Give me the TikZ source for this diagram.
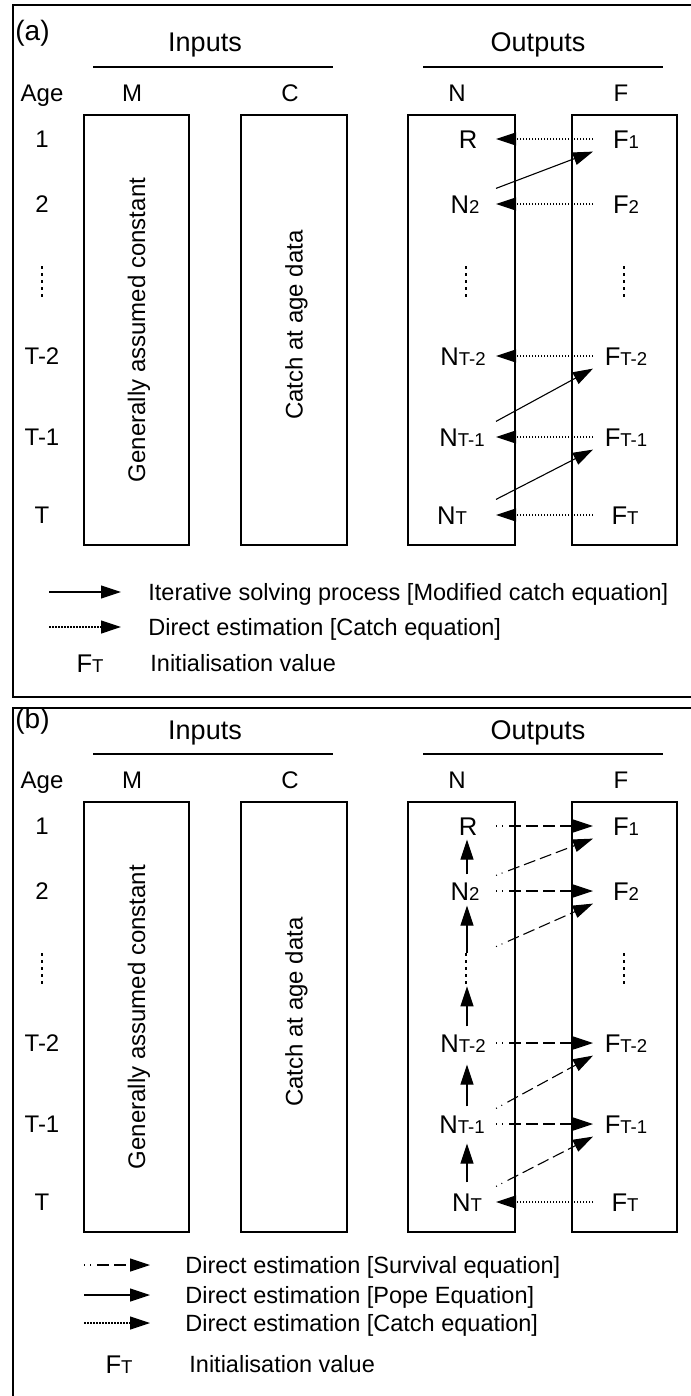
\documentclass[tikz,border=0pt]{standalone}
\usepackage{fontspec}
\setmainfont{Liberation Sans}
\usetikzlibrary{arrows.meta,calc}
\newcommand\mysub[1]{{\fontsize{9.3}{11}\selectfont #1}}
\tikzset{
  lab/.style={font=\fontsize{12}{14}\selectfont, inner sep=0pt, text height=8.6pt, text depth=0pt},
  nf/.style={font=\fontsize{12.8}{15}\selectfont, inner sep=0pt, text height=9.2pt, text depth=0pt},
  leg/.style={font=\fontsize{11.75}{14}\selectfont, inner sep=0pt, text height=8.4pt, text depth=0pt},
  hdr/.style={font=\fontsize{13.5}{16}\selectfont, inner sep=0pt, anchor=base},
  colbox/.style={draw, line width=0.65pt},
  frameline/.style={draw, line width=1pt},
  hrule/.style={line width=0.65pt},
  head/.style={-{Triangle[length=10pt,width=6.5pt]}},
  iter/.style={head, line width=0.55pt},
  catch/.style={head, line width=0.6pt, dash pattern=on 0.75pt off 0.75pt},
  surv/.style={head, line width=0.55pt, dash pattern=on 0.5pt off 2.5pt on 0.5pt off 3pt on 6pt off 2.5pt on 6pt off 2.5pt on 6pt off 2.5pt on 6pt off 2.5pt on 6pt off 2.5pt},
  pope/.style={head, line width=0.6pt},
  dotcol/.style={inner sep=0pt, minimum width=2pt, minimum height=15.5pt,
    path picture={\draw[line width=1.3pt, dash pattern=on 1.3pt off 2.2pt]
      (path picture bounding box.north) -- (path picture bounding box.south);}},
}
\newcommand\mypanel[3]{%
  \node[hdr, anchor=base west, font=\fontsize{14}{16}\selectfont] (#1lab) at (15,41) {#2};
  \node[hdr] (#1in) at (205,52) {Inputs};
  \node[hdr] (#1out) at (538,52) {Outputs};
  \draw[hrule] (93,67) -- (333,67);
  \draw[hrule] (423,67) -- (663,67);
  \node[lab] (#1age) at (42,93) {Age};
  \node[lab] (#1hM) at (132,93) {M};
  \node[lab] (#1hC) at (290,93) {C};
  \node[lab] (#1hN) at (457,93) {N};
  \node[lab] (#1hF) at (621,93) {F};
  \draw[colbox] (84,115) rectangle (189,545);
  \draw[colbox] (241,115) rectangle (347,545);
  \draw[colbox] (408,115) rectangle (515,545);
  \draw[colbox] (572,115) rectangle (677,545);
  \node[lab, rotate=90] (#1gen) at (136.5,330) {Generally assumed constant};
  \node[lab, rotate=90] (#1cat) at (294,325) {Catch at age data};
  \node[lab] (#1A1) at (42,139) {1};
  \node[lab] (#1A2) at (42,204) {2};
  \node[dotcol] (#1Ad) at (42,281.5) {};
  \node[lab] (#1Am2) at (42,356) {T-2};
  \node[lab] (#1Am1) at (42,437) {T-1};
  \node[lab] (#1AT) at (42,515) {T};
  \node[nf] (#1R) at (468,139) {R};
  \node[nf] (#1N2) at (465,204) {N\mysub{2}};
  \node[dotcol] (#1Nd) at (466,281.5) {};
  \node[nf] (#1Nm2) at (463,356) {N\mysub{T-2}};
  \node[nf] (#1Nm1) at (462,437) {N\mysub{T-1}};
  \node[nf] (#1NT) at (#3,515) {N\mysub{T}};
  \node[nf] (#1F1) at (626,139) {F\mysub{1}};
  \node[nf] (#1F2) at (626,204) {F\mysub{2}};
  \node[dotcol] (#1Fd) at (624,281.5) {};
  \node[nf] (#1Fm2) at (626,356) {F\mysub{T-2}};
  \node[nf] (#1Fm1) at (626,437) {F\mysub{T-1}};
  \node[nf] (#1FT) at (625,515) {F\mysub{T}};
  \coordinate (#1xN) at (496,0);
  \coordinate (#1xF) at (593,0);
  \coordinate (#1xV) at (467,0);
}
\begin{document}
\begin{tikzpicture}[x=0.5pt,y=-0.5pt]
\useasboundingbox (0,0) rectangle (690,1396);
\draw[frameline] (700,5) -- (12.5,5) -- (12.5,697) -- (700,697);
\draw[frameline] (700,708) -- (12.5,708) -- (12.5,1400);
% ---------------- panel (a)
\mypanel{a}{(a)}{452}
\draw[catch] (axF |- aF1) -- (axN |- aR);
\draw[catch] (axF |- aF2) -- (axN |- aN2);
\draw[catch] (axF |- aFm2) -- (axN |- aNm2);
\draw[catch] (axF |- aFm1) -- (axN |- aNm1);
\draw[catch] (axF |- aFT) -- (axN |- aNT);
\draw[iter] ($(axN |- aN2.north)+(0,-6)$) -- ($(axF |- aF1.south)+(0,3)$);
\draw[iter] ($(axN |- aNm1.north)+(0,-6)$) -- ($(axF |- aFm2.south)+(0,3)$);
\draw[iter] ($(axN |- aNT.north)+(0,-6)$) -- ($(axF |- aFm1.south)+(0,3)$);
\coordinate (aL1s) at (49,592);
\node[leg, anchor=west] (aL1) at (148,592) {Iterative solving process [Modified catch equation]};
\draw[iter] (aL1s) -- ($(aL1.west)+(-27,0)$);
\coordinate (aL2s) at (49,627);
\node[leg, anchor=west] (aL2) at (148,627) {Direct estimation [Catch equation]};
\draw[catch] (aL2s) -- ($(aL2.west)+(-27,0)$);
\node[nf] (aL3f) at (90,663) {F\mysub{T}};
\node[leg, anchor=west] (aL3) at (150,663) {Initialisation value};
% ---------------- panel (b)
\begin{scope}[shift={(0,687)}]
\mypanel{b}{(b)}{467}
\draw[surv] (bxN |- bR) -- (bxF |- bF1);
\draw[surv] (bxN |- bN2) -- (bxF |- bF2);
\draw[surv] (bxN |- bNm2) -- (bxF |- bFm2);
\draw[surv] (bxN |- bNm1) -- (bxF |- bFm1);
\draw[surv] ($(bxN |- bN2.north)+(0,-6)$) -- ($(bxF |- bF1.south)+(0,3)$);
\draw[surv] ($(bxN |- bNd.north)+(0,-6)$) -- ($(bxF |- bF2.south)+(0,3)$);
\draw[surv] ($(bxN |- bNm1.north)+(0,-6)$) -- ($(bxF |- bFm2.south)+(0,3)$);
\draw[surv] ($(bxN |- bNT.north)+(0,-6)$) -- ($(bxF |- bFm1.south)+(0,3)$);
\draw[pope] ($(bxV |- bN2.north)+(0,-7)$) -- ($(bxV |- bR.south)+(0,4)$);
\draw[pope] (bxV |- bNd.north) -- ($(bxV |- bN2.south)+(0,5)$);
\draw[pope] ($(bxV |- bNm2.north)+(0,-7)$) -- ($(bxV |- bNd.south)+(0,2)$);
\draw[pope] ($(bxV |- bNm1.north)+(0,-8)$) -- ($(bxV |- bNm2.south)+(0,12)$);
\draw[pope] ($(bxV |- bNT.north)+(0,-10)$) -- ($(bxV |- bNm1.south)+(0,10)$);
\draw[catch] (bxF |- bFT) -- (bxN |- bNT);
\coordinate (bL1s) at (84,578);
\node[leg, anchor=west] (bL1) at (185,578) {Direct estimation [Survival equation]};
\draw[surv] (bL1s) -- ($(bL1.west)+(-35,0)$);
\coordinate (bL2s) at (84,608);
\node[leg, anchor=west] (bL2) at (185,608) {Direct estimation [Pope Equation]};
\draw[pope] (bL2s) -- ($(bL2.west)+(-35,0)$);
\coordinate (bL3s) at (84,636);
\node[leg, anchor=west] (bL3) at (185,636) {Direct estimation [Catch equation]};
\draw[catch] (bL3s) -- ($(bL3.west)+(-35,0)$);
\node[nf] (bL4f) at (119,677) {F\mysub{T}};
\node[leg, anchor=west] (bL4) at (189,677) {Initialisation value};
\end{scope}
\end{tikzpicture}
\end{document}
